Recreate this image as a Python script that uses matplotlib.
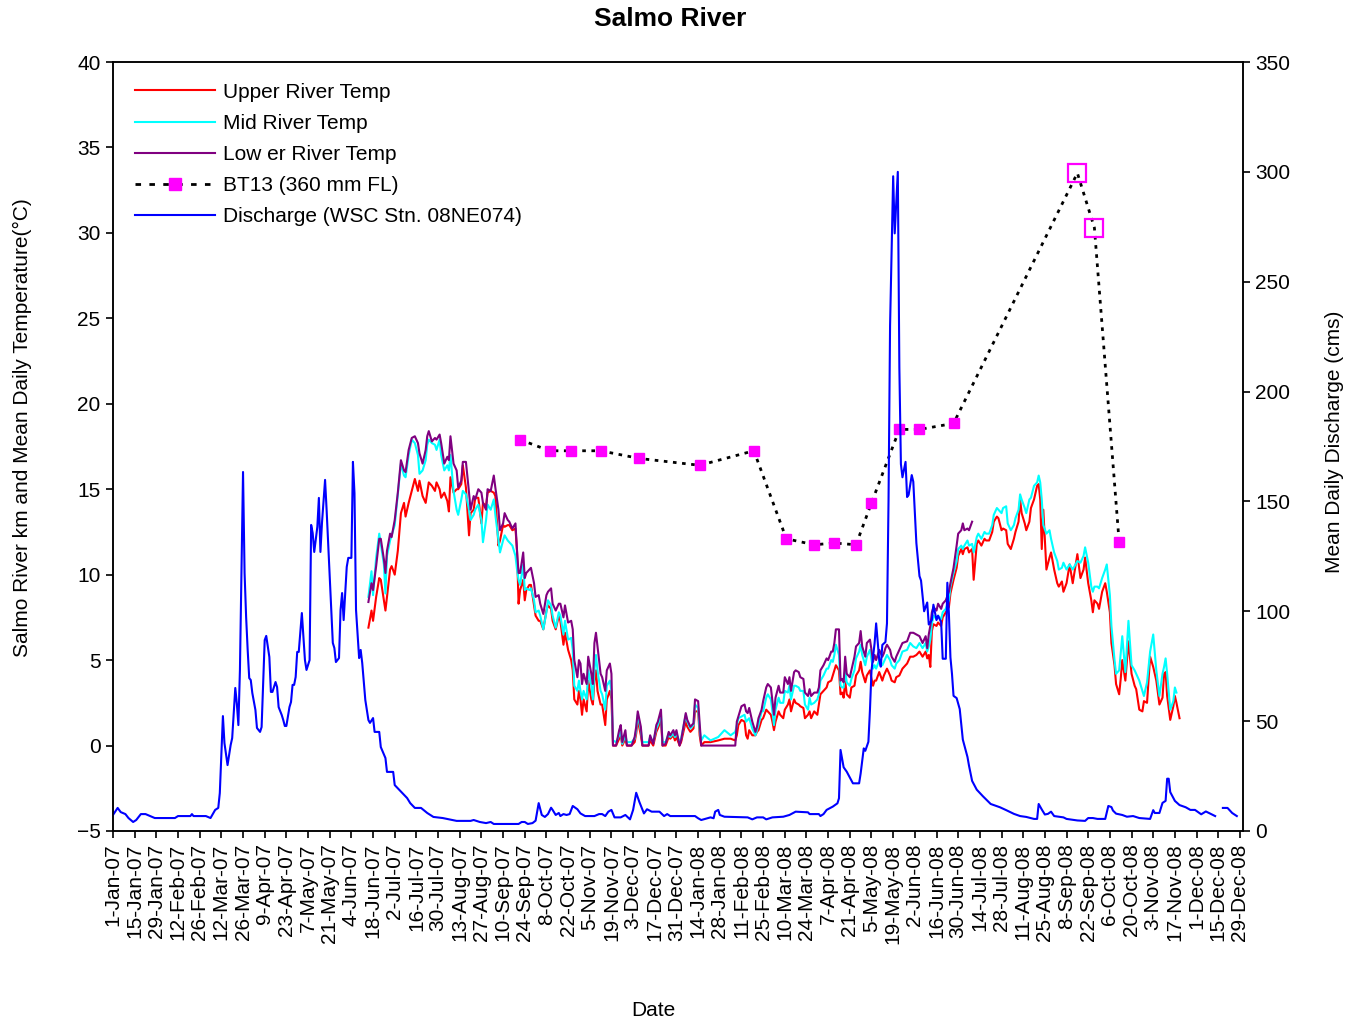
import numpy as np
import matplotlib
matplotlib.use("Agg")
import matplotlib.pyplot as plt
from matplotlib.lines import Line2D

plt.rcParams['font.family'] = ['Liberation Sans', 'DejaVu Sans']
plt.rcParams['font.size'] = 15

day0 = np.datetime64('2007-01-01')


def as_dates(days):
    return day0 + np.array(days, dtype='timedelta64[D]')


# discharge at WSC station 08NE074, days counted from 1-Jan-07 (cms)
q_day = [0, 3, 5, 8, 10, 13, 15, 18, 21, 24,
         27, 40, 42, 50, 51, 52, 60, 63, 66, 68,
         69, 71, 72, 74, 76, 77, 79, 80, 81, 82,
         84, 85, 86, 87, 88, 89, 90, 92, 93, 95,
         96, 98, 99, 101, 102, 103, 105, 106, 107, 109,
         110, 111, 112, 114, 115, 116, 117, 118, 119, 120,
         121, 122, 124, 125, 127, 128, 129, 130, 132, 133,
         134, 135, 137, 138, 141, 142, 143, 144, 146, 147,
         148, 149, 151, 152, 154, 155, 156, 157, 158, 159,
         160, 161, 163, 165, 166, 168, 169, 172, 173, 176,
         177, 181, 182, 185, 190, 192, 195, 199, 203, 207,
         213, 222, 231, 233, 237, 241, 244, 246, 262, 264,
         266, 268, 271, 273, 275, 277, 279, 281, 283, 284,
         286, 288, 289, 291, 293, 295, 297, 300, 302, 305,
         311, 314, 316, 318, 320, 322, 324, 328, 331, 334,
         336, 338, 340, 343, 345, 348, 353, 356, 358, 360,
         376, 378, 380, 386, 388, 389, 391, 392, 395, 410,
         413, 416, 420, 422, 426, 433, 437, 441, 449, 450,
         456, 457, 459, 461, 465, 468, 469, 470, 472, 474,
         478, 482, 483, 485, 486, 488, 489, 490, 492, 493,
         495, 496, 497, 499, 500, 501, 502, 504, 505, 507,
         508, 509, 510, 512, 513, 514, 516, 517, 519, 521,
         522, 524, 526, 527, 529, 530, 532, 533, 535, 536,
         538, 539, 540, 541, 542, 543, 545, 547, 549, 552,
         553, 555, 558, 562, 567, 573, 577, 582, 586, 590,
         595, 597, 598, 600, 602, 604, 606, 608, 614, 616,
         623, 628, 630, 633, 636, 641, 643, 645, 646, 648,
         652, 655, 659, 663, 670, 672, 673, 676, 678, 680,
         681, 682, 683, 686, 689, 693, 696, 699, 703, 706,
         712, 714, 717, 720, 723, 726]
q_cms = [7.3, 10.5, 8.6, 7.7, 5.9, 4.1, 5.0, 7.7, 7.7, 6.8,
         5.9, 5.9, 6.8, 6.8, 7.7, 6.8, 6.8, 5.9, 9.6, 10.5,
         17.3, 52.3, 40.0, 30.0, 39.1, 42.3, 65.1, 58.0, 48.2, 73.3,
         163.4, 117.4, 97.4, 82.4, 69.6, 68.7, 62.8, 55.1, 46.9, 45.1,
         47.3, 86.9, 88.8, 79.2, 63.3, 63.3, 67.8, 65.5, 56.4, 52.8,
         50.5, 47.8, 47.8, 56.4, 58.7, 66.5, 66.5, 70.1, 81.5, 81.5,
         90.1, 99.2, 77.8, 73.3, 77.8, 139.3, 135.6, 127.0, 138.4, 151.6,
         127.0, 140.2, 159.8, 146.1, 100.6, 85.6, 83.3, 76.9, 78.7, 100.6,
         108.3, 96.0, 120.2, 124.3, 124.3, 168.0, 153.8, 100.6, 90.0, 78.7,
         82.4, 76.5, 59.6, 50.5, 49.2, 51.4, 45.1, 45.1, 38.2, 33.2,
         26.9, 26.9, 20.9, 18.7, 15.0, 12.7, 10.5, 10.5, 8.2, 6.4,
         5.9, 4.6, 4.6, 5.0, 4.1, 3.6, 4.1, 3.2, 3.2, 4.1,
         4.1, 3.2, 3.6, 4.7, 12.7, 7.3, 6.4, 7.7, 10.6, 9.6,
         7.3, 8.2, 6.8, 7.7, 7.3, 7.7, 11.4, 9.9, 8.0, 6.8,
         6.8, 7.7, 7.7, 6.8, 8.8, 9.6, 6.2, 6.2, 7.3, 5.3,
         9.6, 17.4, 13.3, 8.0, 9.9, 8.8, 8.8, 6.8, 7.7, 6.8,
         6.8, 5.8, 5.0, 6.2, 5.8, 8.8, 9.6, 7.3, 6.5, 6.2,
         5.3, 6.2, 6.2, 5.3, 6.2, 6.5, 7.3, 8.8, 8.5, 7.7,
         7.7, 6.8, 7.7, 9.6, 11.1, 12.6, 14.9, 36.9, 29.0, 27.0,
         21.7, 21.7, 26.2, 37.6, 36.5, 40.6, 55.0, 73.0, 85.4, 94.5,
         77.8, 74.8, 84.7, 86.0, 94.5, 150.0, 230.0, 298.0, 272.0, 300.0,
         211.0, 167.0, 161.0, 168.0, 152.0, 153.0, 162.0, 159.0, 131.0, 116.0,
         114.0, 100.0, 104.0, 94.0, 96.0, 103.0, 96.0, 98.0, 95.0, 78.4,
         78.4, 113.0, 99.0, 79.0, 71.5, 61.5, 60.5, 55.5, 41.6, 33.7,
         29.7, 22.8, 18.8, 15.8, 12.3, 10.8, 9.5, 7.8, 6.8, 6.4,
         5.5, 5.5, 12.3, 9.8, 7.5, 7.8, 8.8, 6.8, 6.2, 5.5,
         4.8, 4.6, 5.9, 5.9, 5.5, 5.5, 11.4, 10.9, 9.3, 7.9,
         7.3, 6.5, 6.8, 5.9, 5.5, 9.5, 8.2, 8.2, 12.8, 13.7,
         23.8, 23.8, 17.7, 13.7, 11.8, 10.8, 9.6, 9.6, 7.6, 8.9,
         6.8, np.nan, 10.5, 10.5, 8.2, 6.8]

# mean daily water temperature (deg C); mid and lower loggers stop earlier
temp_day = [165, 167, 168, 170, 172, 173, 175, 176, 177, 179,
            180, 182, 184, 186, 188, 189, 191, 193, 195, 197,
            198, 200, 202, 203, 204, 206, 208, 209, 211, 212,
            214, 216, 217, 218, 220, 222, 223, 225, 226, 228,
            230, 231, 233, 234, 236, 238, 239, 241, 242, 244,
            246, 247, 249, 250, 252, 253, 255, 256,
            258, 260, 261, 262, 263, 265, 266, 267, 269, 270,
            272, 273, 275, 276, 278, 280, 281, 283, 284, 286,
            288, 289, 291, 292, 294, 296, 297, 298, 300, 301,
            302, 303, 304, 306, 307, 309, 310, 311, 312, 313,
            315, 316, 318, 319, 321, 322, 323, 325, 327, 328,
            329, 331, 332, 335, 337, 338, 339, 341, 342, 346,
            347, 349, 351, 352, 354, 355, 357, 359, 360, 362,
            363, 364, 366, 367, 370, 371, 373, 375, 376, 378,
            379, 380,
            382, 386, 391, 395, 399, 402, 403, 404, 406, 408,
            409, 410, 411, 413, 415, 416, 417, 419, 420, 422,
            423, 425, 426, 427, 428, 430, 431, 433, 434, 436,
            437, 438, 440, 441, 443, 444, 446, 447, 449, 450,
            451, 453, 455, 456, 457, 459, 461, 462, 464, 465,
            466, 467, 469, 470, 471, 472, 473, 474, 476, 477,
            479, 480, 482, 483, 484, 486, 487, 489, 490, 491,
            492, 493, 495, 497, 498, 499, 500, 502, 503, 505,
            506, 508, 510,
            513, 515, 517, 519, 521, 523, 525, 526, 527, 528,
            529, 530, 532, 533, 535, 536, 538, 540, 541, 543,
            545, 546, 548, 549, 550, 552, 553, 555,
            556, 558, 559, 561, 563, 564, 566, 568, 569, 571,
            572, 574, 575, 577, 578, 580, 582, 583, 585, 586,
            587, 589, 590, 592, 593, 595, 597, 598, 599, 600,
            601, 603, 605, 606, 608, 610, 611, 613, 614, 616,
            618, 620, 623,
            625, 627, 628, 630, 632, 633, 634, 636, 637, 639,
            641, 642, 644, 645, 647, 648, 650, 651, 652, 654,
            656, 658, 660, 661, 663, 665, 666, 668, 670, 672,
            674, 676, 678, 679, 680, 681, 683, 685, 686, 687,
            689]

upper_temp = [6.9, 7.9, 7.3, 8.7, 9.8, 9.7, 8.5, 7.9, 8.7, 10.3,
              10.5, 10.0, 11.4, 13.6, 14.2, 13.4, 14.2, 14.9, 15.6, 14.9,
              15.5, 14.6, 14.2, 14.8, 15.4, 15.2, 14.9, 15.4, 15.0, 14.5,
              14.8, 14.3, 13.7, 15.7, 14.8, 15.0, 15.0, 15.3, 16.4, 15.1,
              12.3, 13.6, 13.8, 14.5, 14.5, 13.0, 14.2, 14.0, 14.8, 14.9,
              14.8, 14.6, 11.7, 12.0, 12.9, 12.8, 12.9, 12.9,
              12.6, 12.7, 11.4, 8.3, 9.1, 9.7, 8.5, 9.1, 9.4, 9.4,
              8.2, 7.6, 7.3, 7.3, 6.8, 7.9, 8.2, 8.0, 7.3, 6.8,
              7.6, 7.3, 5.9, 6.6, 5.6, 5.0, 4.4, 2.7, 2.4, 3.2,
              2.7, 1.8, 2.7, 2.0, 3.8, 2.7, 2.4, 3.8, 4.4, 3.2,
              2.4, 2.4, 1.2, 2.7, 3.2, 2.7, 0.0, 0.0, 0.4, 0.6,
              0.0, 0.4, 0.0, 0.0, 0.2, 0.7, 1.5, 0.6, 0.0, 0.0,
              0.3, 0.0, 0.8, 1.0, 1.5, 0.0, 0.0, 0.5, 0.4, 0.6,
              0.3, 0.5, 0.0, 0.2, 1.4, 1.1, 0.8, 1.0, 2.0, 2.0,
              0.6, 0.0,
              0.2, 0.2, 0.3, 0.4, 0.4, 0.3, 0.6, 1.2, 1.5, 1.4,
              0.6, 0.4, 0.9, 0.6, 0.6, 0.8, 0.9, 1.5, 1.6, 2.1,
              2.0, 1.8, 1.4, 0.9, 1.4, 2.0, 1.8, 1.6, 2.1, 2.4,
              2.7, 2.0, 2.7, 2.5, 2.4, 2.3, 2.2, 1.6, 1.8, 2.0,
              1.6, 2.0, 1.8, 2.4, 3.0, 3.2, 3.4, 3.7, 3.8, 4.1,
              4.4, 4.7, 4.4, 3.0, 3.1, 2.8, 3.8, 3.0, 2.8, 3.4,
              3.5, 4.1, 4.4, 4.9, 4.3, 3.7, 4.1, 4.4, 3.9, 3.5,
              3.8, 3.8, 4.3, 3.8, 4.1, 4.3, 4.5, 4.1, 3.8, 3.7,
              4.0, 4.1, 4.5,
              4.8, 5.2, 5.2, 5.3, 5.5, 5.2, 5.5, 5.1, 5.3, 4.6,
              6.7, 7.1, 7.0, 7.2, 7.0, 7.5, 7.8, 8.1, 8.9, 9.7,
              10.4, 11.1, 11.5, 11.2, 11.5, 11.6, 11.3, 11.5,
              9.7, 11.8, 12.0, 11.7, 12.1, 12.0, 12.0, 12.5, 13.1, 13.4,
              13.3, 12.6, 12.7, 12.6, 11.8, 11.5, 12.1, 12.5, 13.1, 14.4,
              13.6, 13.0, 12.6, 13.1, 13.9, 14.4, 15.2, 15.3, 14.4, 11.5,
              13.8, 10.3, 11.0, 11.3, 10.3, 9.5, 9.3, 9.6, 9.0, 9.5,
              10.6, 9.5, 11.2,
              9.8, 10.3, 11.0, 9.5, 8.5, 7.8, 8.5, 8.3, 8.0, 9.0,
              9.5, 9.0, 7.8, 6.0, 4.7, 3.6, 3.0, 3.9, 5.0, 3.8,
              6.1, 4.2, 3.5, 3.3, 2.1, 2.0, 2.6, 2.5, 5.2, 4.6,
              3.8, 2.4, 2.8, 4.2, 4.3, 2.9, 1.5, 2.3, 2.9, 2.5,
              1.6]

mid_temp = [8.7, 10.2, 8.8, 11.0, 12.4, 11.8, 10.6, 8.9, 11.1, 12.0,
            12.3, 12.9, 14.7, 16.5, 15.8, 15.7, 17.0, 17.9, 17.7, 17.0,
            15.9, 16.1, 16.7, 17.6, 17.9, 17.7, 17.6, 17.3, 17.9, 17.0,
            16.1, 16.4, 16.1, 17.0, 14.9, 13.8, 13.5, 14.4, 14.9, 14.7,
            13.8, 13.2, 13.5, 13.8, 14.1, 13.2, 11.9, 13.2, 14.1, 13.8,
            14.4, 13.5, 12.0, 11.3, 12.0, 12.3, 12.0, 11.9,
            11.7, 11.1, 10.3, 9.7, 9.4, 10.6, 9.1, 9.2, 9.1, 9.2,
            8.5, 7.8, 7.9, 7.6, 6.8, 7.8, 8.5, 8.2, 7.6, 6.9,
            7.8, 7.6, 6.5, 7.3, 6.2, 6.3, 5.6, 3.5, 3.2, 3.8,
            3.2, 2.7, 3.2, 2.7, 4.4, 3.5, 2.7, 4.4, 5.3, 4.4,
            3.2, 3.0, 2.1, 3.5, 3.8, 3.2, 0.3, 0.2, 0.6, 0.8,
            0.1, 0.6, 0.2, 0.2, 0.4, 0.9, 1.8, 0.9, 0.2, 0.2,
            0.5, 0.2, 1.0, 1.2, 1.8, 0.2, 0.2, 0.7, 0.5, 0.7,
            0.5, 0.7, 0.2, 0.4, 1.8, 1.4, 1.0, 1.2, 2.4, 2.2,
            0.9, 0.3,
            0.6, 0.3, 0.5, 0.9, 0.6, 0.8, 1.2, 1.6, 1.7, 1.8,
            1.4, 1.5, 1.6, 1.0, 0.6, 0.9, 1.2, 2.0, 2.0, 2.8,
            3.0, 2.7, 2.0, 1.2, 2.1, 2.8, 2.5, 2.5, 3.2, 3.1,
            3.5, 2.7, 3.5, 3.5, 3.4, 3.2, 3.2, 2.4, 2.1, 2.8,
            2.4, 2.5, 2.7, 3.0, 3.8, 4.1, 4.5, 4.5, 5.0, 4.9,
            5.3, 5.9, 5.3, 3.5, 3.4, 3.4, 4.4, 3.7, 3.5, 3.9,
            4.4, 5.1, 5.5, 5.9, 5.3, 4.7, 5.2, 5.6, 5.0, 4.5,
            4.7, 4.5, 5.0, 4.7, 4.9, 5.1, 5.3, 5.0, 4.7, 4.5,
            4.8, 5.0, 5.5,
            5.6, 6.0, 5.8, 5.7, 6.0, 5.7, 6.0, 5.5, 5.8, 6.2,
            7.1, 7.6, 7.4, 7.6, 7.4, 7.8, 8.0, 8.5, 9.3, 10.1,
            10.8, 11.5, 11.7, 11.5, 11.7, 12.0, 11.7, 11.8,
            11.3, 12.2, 12.4, 12.1, 12.5, 12.4, 12.4, 12.9, 13.5, 13.9,
            13.8, 13.6, 13.9, 14.0, 13.0, 12.6, 12.9, 13.3, 13.8, 14.7,
            14.4, 13.9, 13.6, 14.4, 14.5, 15.2, 15.4, 15.8, 15.4, 14.4,
            12.9, 12.4, 12.6, 12.1, 11.3, 10.8, 10.3, 10.4, 10.7, 10.3,
            10.6, 10.3, 10.8,
            10.7, 11.1, 11.6, 10.7, 9.3, 9.0, 9.3, 9.3, 9.2, 9.8,
            10.3, 10.6, 8.8, 7.0, 5.0, 4.2, 4.4, 5.4, 6.4, 4.3,
            7.3, 4.7, 4.4, 4.2, 3.8, 3.2, 2.9, 3.7, 5.5, 6.5,
            4.4, 2.9, 4.2, 4.6, 5.1, 4.2, 2.1, 2.6, 3.4, 3.1]

lower_temp = [8.4, 9.5, 9.1, 10.5, 12.1, 12.1, 10.9, 10.1, 11.4, 12.4,
              12.2, 13.2, 14.8, 16.7, 16.1, 16.0, 17.3, 18.0, 18.1, 17.7,
              17.1, 16.5, 17.3, 18.1, 18.4, 17.8, 18.0, 17.9, 18.2, 17.7,
              16.5, 16.9, 16.7, 18.1, 16.5, 16.1, 15.1, 15.5, 16.6, 16.6,
              14.8, 13.8, 14.6, 14.4, 15.0, 14.8, 14.2, 13.8, 15.0, 14.9,
              15.8, 15.1, 13.8, 12.6, 13.0, 13.6, 13.2, 13.1,
              12.7, 13.0, 11.4, 10.1, 10.1, 11.3, 9.8, 10.1, 10.3, 10.4,
              9.5, 8.7, 8.8, 8.3, 7.7, 8.8, 9.0, 9.2, 8.3, 7.9,
              8.3, 8.3, 7.5, 8.2, 7.2, 7.3, 6.8, 5.0, 4.0, 5.0,
              4.8, 3.6, 4.2, 3.6, 5.2, 4.2, 3.6, 6.0, 6.6, 5.8,
              4.2, 4.0, 3.2, 4.4, 4.8, 4.2, 0.0, 0.0, 0.9, 1.2,
              0.2, 0.9, 0.0, 0.0, 0.5, 1.1, 2.0, 1.1, 0.0, 0.0,
              0.6, 0.1, 1.2, 1.4, 2.1, 0.0, 0.1, 0.8, 0.6, 0.9,
              0.6, 0.9, 0.0, 0.3, 1.9, 1.5, 1.1, 1.3, 2.7, 2.6,
              1.3, 0.0,
              0.0, 0.0, 0.0, 0.0, 0.0, 0.0, 1.4, 1.7, 2.3, 2.4,
              2.0, 1.9, 2.2, 1.4, 0.8, 1.1, 1.6, 2.1, 2.6, 3.4,
              3.6, 3.4, 2.6, 1.8, 2.8, 3.5, 3.1, 3.1, 4.0, 3.6,
              4.0, 3.2, 4.3, 4.4, 4.3, 4.0, 3.9, 3.1, 2.9, 3.3,
              2.9, 3.1, 3.1, 3.4, 4.4, 4.7, 5.1, 5.0, 5.5, 5.5,
              6.0, 6.8, 6.8, 3.8, 3.9, 3.7, 5.2, 4.2, 4.0, 4.4,
              5.2, 5.8, 6.0, 6.7, 5.8, 5.2, 6.0, 6.2, 5.6, 4.9,
              5.3, 5.0, 5.6, 5.2, 5.4, 5.7, 5.9, 5.6, 5.2, 4.9,
              5.2, 5.6, 6.0,
              6.1, 6.6, 6.6, 6.5, 6.4, 6.0, 6.4, 5.7, 6.5, 7.0,
              7.8, 8.1, 7.9, 8.3, 8.0, 8.3, 8.5, 9.0, 9.5, 10.4,
              11.7, 12.4, 12.6, 13.0, 12.6, 12.7, 12.6, 13.1]

# tagged bull trout BT13 position (river km)
bt13_day = [263, 282, 296, 315, 340, 379, 414, 435, 453, 466,
            480, 490, 508, 521, 543, 623, 634, 650]
bt13_km = [17.9, 17.25, 17.25, 17.25, 16.8, 16.4, 17.25, 12.1, 11.75, 11.85,
           11.75, 14.2, 18.5, 18.5, 18.85, 33.5, 30.3, 11.9]
bt13_open = [15, 16]

fig = plt.figure(figsize=(13.52, 10.23), dpi=100)
ax = fig.add_axes([113 / 1352, 192 / 1023, 1130 / 1352, 769 / 1023])
ax2 = ax.twinx()

t = as_dates(temp_day)
l_up, = ax.plot(t, upper_temp, color='#FF0000', lw=1.5)
l_mid, = ax.plot(t[:len(mid_temp)], mid_temp, color='#00FFFF', lw=1.5)
l_low, = ax.plot(t[:len(lower_temp)], lower_temp, color='#800080', lw=1.5)

b = as_dates(bt13_day)
km = np.array(bt13_km)
solid = [i for i in range(len(bt13_day)) if i not in bt13_open]
ax.plot(b, km, color='black', lw=2, ls=(0, (1.3, 2)), zorder=3)
ax.plot(b[solid], km[solid], ls='none', marker='s', ms=7,
        mfc='#FF00FF', mec='#FF00FF', zorder=4)
ax.plot(b[bt13_open], km[bt13_open], ls='none', marker='s', ms=13,
        mfc='none', mec='#FF00FF', mew=1.6, zorder=4)

l_q, = ax2.plot(as_dates(q_day), q_cms, color='#0000FF', lw=1.5)

ax.set_ylim(-5, 40)
ax.set_yticks(range(-5, 41, 5))
ax2.set_ylim(0, 350)
ax2.set_yticks(range(0, 351, 50))

ax.set_xlim(as_dates([0])[0], as_dates([730])[0])
ticks = as_dates(list(range(0, 729, 14)))
labels = [f"{d.day}-{d.strftime('%b-%y')}" for d in ticks.astype(object)]
ax.set_xticks(ticks)
ax.set_xticklabels(labels, rotation=90)

ax.tick_params(axis='both', direction='out', length=5, width=1.2,
               labelsize=15, pad=4)
ax2.tick_params(axis='y', direction='out', length=5, width=1.2,
                labelsize=15, pad=4)
for a in (ax, ax2):
    for s in a.spines.values():
        s.set_linewidth(1.1)

bt_key = Line2D([], [], color='black', lw=2, ls=(0, (2, 3)), marker='s',
                ms=9, mfc='#FF00FF', mec='#FF00FF')
ax2.legend([l_up, l_mid, l_low, bt_key, l_q],
           ['Upper River Temp', 'Mid River Temp', 'Low er River Temp',
            'BT13 (360 mm FL)', 'Discharge (WSC Stn. 08NE074)'],
           loc='upper left', bbox_to_anchor=(0.0195, 0.973), frameon=False,
           handlelength=3.85, handletextpad=0.35, labelspacing=0.58,
           borderaxespad=0, borderpad=0, fontsize=15, numpoints=1)

fig.text(670 / 1352, 1 - 19 / 1023, 'Salmo River', fontsize=19,
         fontweight='bold', ha='center', va='center')
fig.text(22 / 1352, 1 - 428 / 1023,
         'Salmo River km and Mean Daily Temperature(°C)', rotation=90,
         ha='center', va='center', fontsize=15)
fig.text(1335 / 1352, 1 - 442 / 1023, 'Mean Daily Discharge (cms)',
         rotation=90, ha='center', va='center', fontsize=15)
fig.text(653 / 1352, 1 - 1010 / 1023, 'Date', ha='center', va='center',
         fontsize=15)

fig.savefig('out.png', dpi=100)
